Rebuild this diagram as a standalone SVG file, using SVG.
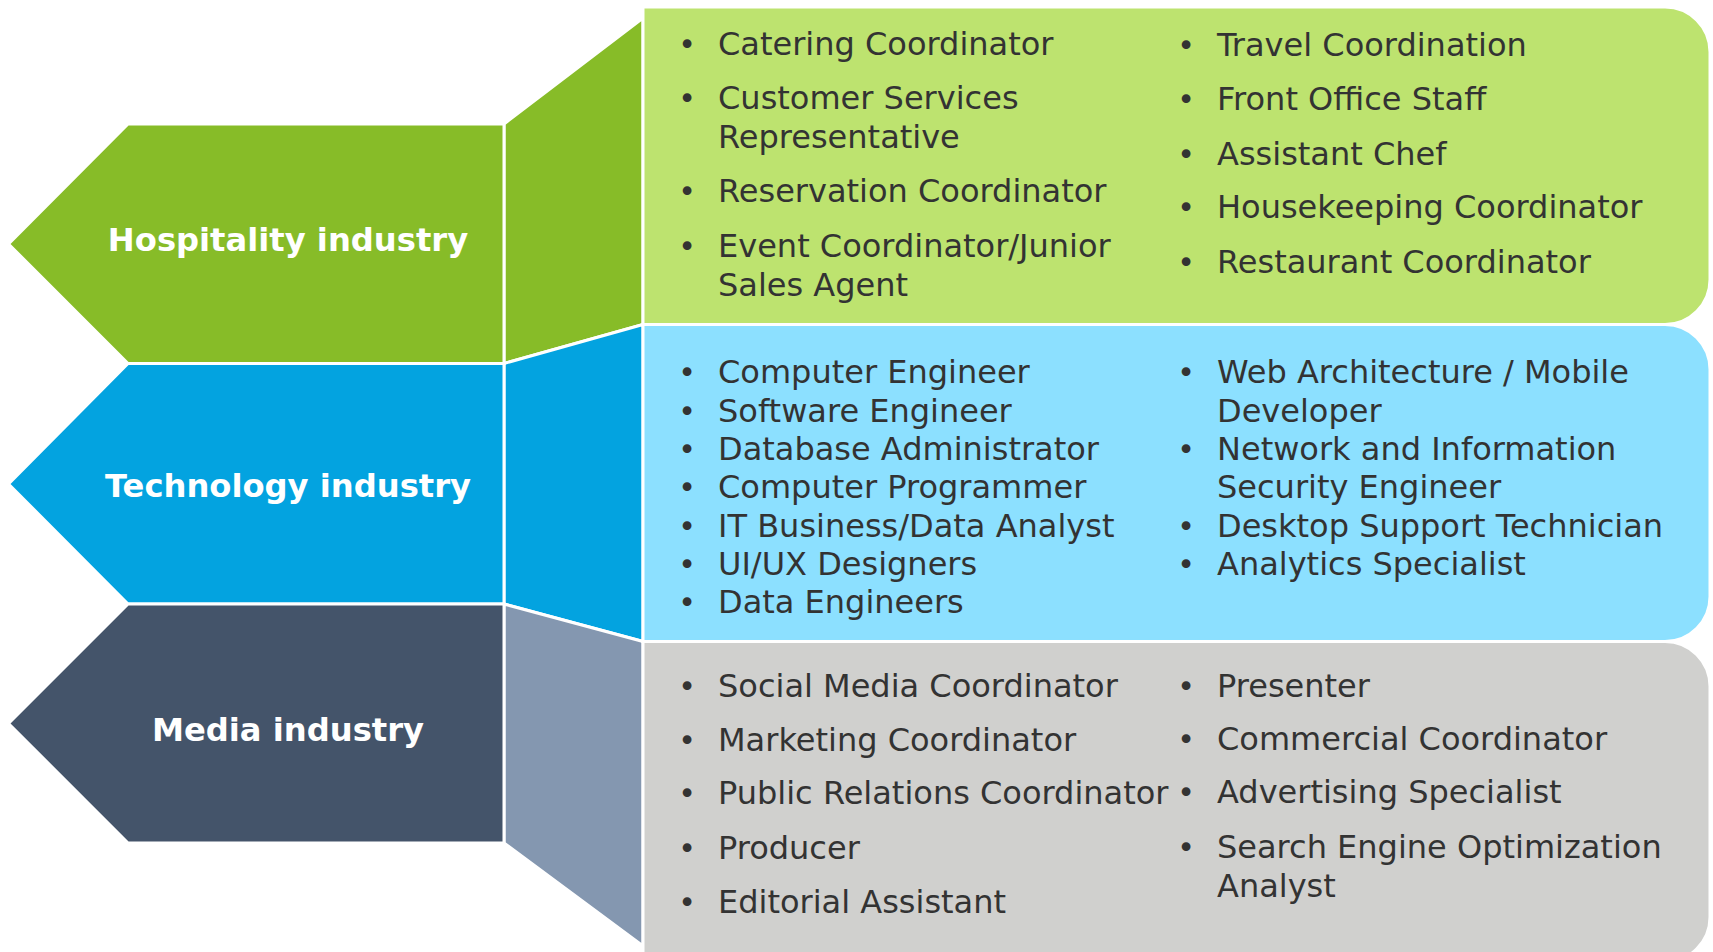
<svg xmlns="http://www.w3.org/2000/svg" width="1713" height="952" viewBox="0 0 1713 952">
<style>
.sep{stroke:#ffffff;stroke-width:3;stroke-linejoin:miter}
.lbl{font-family:"DejaVu Sans",Verdana,sans-serif;font-weight:bold;font-size:32.2px;fill:#ffffff;text-anchor:middle}
.it{font-family:"DejaVu Sans",Verdana,sans-serif;font-size:32px;fill:#333333}
.b{font-family:"DejaVu Sans",Verdana,sans-serif;font-size:30px;fill:#333333;text-anchor:middle}
</style>
<rect x="0" y="0" width="1713" height="952" fill="#ffffff"/>
<g id="connectors">
<polygon class="sep" fill="#87BC28" points="504,124 643,18 643,324.5 504,363.5"/>
<polygon class="sep" fill="#03A3E0" points="504,363.5 643,324.5 643,641.5 504,604"/>
<polygon class="sep" fill="#8497B0" points="504,604 643,641.5 643,946 504,843"/>
</g>
<g id="hospitality">
<polygon class="sep" fill="#87BC28" points="128,124 504,124 504,363.5 128,363.5 8.5,244"/>
<text class="lbl" x="288" y="251">Hospitality industry</text>
</g>
<g id="technology">
<polygon class="sep" fill="#03A3E0" points="128,363.5 504,363.5 504,604 128,604 8.5,484"/>
<text class="lbl" x="288" y="497">Technology industry</text>
</g>
<g id="media">
<polygon class="sep" fill="#44546A" points="128,604 504,604 504,843 128,843 8.5,723.5"/>
<text class="lbl" x="288" y="741">Media industry</text>
</g>
<g id="hospitality-jobs">
<path class="sep" fill="#BDE36F" d="M643,7 H1665 A45,45 0 0 1 1710,52 V279.5 A45,45 0 0 1 1665,324.5 H643 Z"/>
<text class="b" x="687" y="55">•</text><text class="it" x="718" y="55">Catering Coordinator</text>
<text class="b" x="687" y="109">•</text><text class="it" x="718" y="109">Customer Services<tspan x="718" y="147.5">Representative</tspan></text>
<text class="b" x="687" y="202">•</text><text class="it" x="718" y="202">Reservation Coordinator</text>
<text class="b" x="687" y="257">•</text><text class="it" x="718" y="257">Event Coordinator/Junior<tspan x="718" y="295.5">Sales Agent</tspan></text>
<text class="b" x="1186" y="56">•</text><text class="it" x="1217" y="56">Travel Coordination</text>
<text class="b" x="1186" y="110">•</text><text class="it" x="1217" y="110">Front Office Staff</text>
<text class="b" x="1186" y="165">•</text><text class="it" x="1217" y="165">Assistant Chef</text>
<text class="b" x="1186" y="218">•</text><text class="it" x="1217" y="218">Housekeeping Coordinator</text>
<text class="b" x="1186" y="273">•</text><text class="it" x="1217" y="273">Restaurant Coordinator</text>
</g>
<g id="technology-jobs">
<path class="sep" fill="#8CE0FF" d="M643,324.5 H1665 A45,45 0 0 1 1710,369.5 V596.5 A45,45 0 0 1 1665,641.5 H643 Z"/>
<text class="b" x="687" y="383">•</text><text class="it" x="718" y="383">Computer Engineer</text>
<text class="b" x="687" y="421.5">•</text><text class="it" x="718" y="421.5">Software Engineer</text>
<text class="b" x="687" y="460">•</text><text class="it" x="718" y="460">Database Administrator</text>
<text class="b" x="687" y="498">•</text><text class="it" x="718" y="498">Computer Programmer</text>
<text class="b" x="687" y="537">•</text><text class="it" x="718" y="537">IT Business/Data Analyst</text>
<text class="b" x="687" y="575">•</text><text class="it" x="718" y="575">UI/UX Designers</text>
<text class="b" x="687" y="613">•</text><text class="it" x="718" y="613">Data Engineers</text>
<text class="b" x="1186" y="383">•</text><text class="it" x="1217" y="383">Web Architecture / Mobile<tspan x="1217" y="422">Developer</tspan></text>
<text class="b" x="1186" y="460">•</text><text class="it" x="1217" y="460">Network and Information<tspan x="1217" y="498">Security Engineer</tspan></text>
<text class="b" x="1186" y="537">•</text><text class="it" x="1217" y="537">Desktop Support Technician</text>
<text class="b" x="1186" y="575">•</text><text class="it" x="1217" y="575">Analytics Specialist</text>
</g>
<g id="media-jobs">
<path class="sep" fill="#D0D0CE" d="M643,641.5 H1665 A45,45 0 0 1 1710,686.5 V917 A45,45 0 0 1 1665,962 H643 Z"/>
<text class="b" x="687" y="697">•</text><text class="it" x="718" y="697">Social Media Coordinator</text>
<text class="b" x="687" y="751">•</text><text class="it" x="718" y="751">Marketing Coordinator</text>
<text class="b" x="687" y="804">•</text><text class="it" x="718" y="804">Public Relations Coordinator</text>
<text class="b" x="687" y="859">•</text><text class="it" x="718" y="859">Producer</text>
<text class="b" x="687" y="913">•</text><text class="it" x="718" y="913">Editorial Assistant</text>
<text class="b" x="1186" y="697">•</text><text class="it" x="1217" y="697">Presenter</text>
<text class="b" x="1186" y="750">•</text><text class="it" x="1217" y="750">Commercial Coordinator</text>
<text class="b" x="1186" y="803">•</text><text class="it" x="1217" y="803">Advertising Specialist</text>
<text class="b" x="1186" y="858">•</text><text class="it" x="1217" y="858">Search Engine Optimization<tspan x="1217" y="897">Analyst</tspan></text>
</g>
</svg>
